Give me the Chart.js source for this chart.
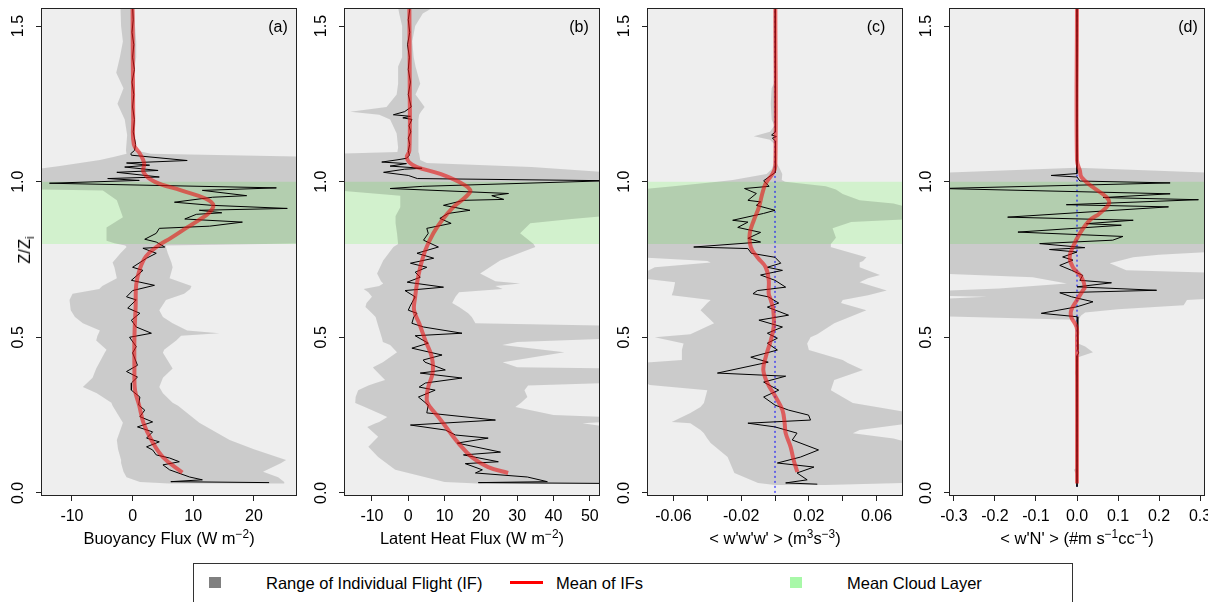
<!DOCTYPE html>
<html>
<head>
<meta charset="utf-8">
<script src="https://cdn.jsdelivr.net/npm/chart.js"></script>
<style>
  html, body { margin: 0; padding: 0; background: #fff; }
  body { width: 1219px; height: 602px; position: relative; overflow: hidden;
         font-family: 'Liberation Sans', Arial, sans-serif; color: #000; }
  canvas.panel { position: absolute; top: 0; }
  .xtitle { position: absolute; top: 530px; font-size: 16.5px; line-height: 16px; white-space: nowrap;
            transform: translateX(-50%); }
  .xtitle sup { font-size: 0.72em; line-height: 0; vertical-align: 0; position: relative; top: -0.5em; }
  .ytitle { position: absolute; left: 24px; top: 250px; font-size: 16.5px; line-height: 16px; white-space: nowrap;
            transform: translate(-50%, -50%) rotate(-90deg); }
  .ytitle sub { font-size: 0.72em; line-height: 0; vertical-align: 0; position: relative; top: 0.3em; }
  .tag { position: absolute; top: 19px; font-size: 16px; line-height: 16px; transform: translateX(-50%); }
  #legend { position: absolute; left: 193px; top: 563px; width: 878px; height: 60px; border: 1px solid #333; }
  #legend .sw { position: absolute; top: 13px; width: 12px; height: 11px; }
  #legend .ln { position: absolute; top: 17px; width: 33px; height: 3px; background: #ff0000; }
  #legend .lb { position: absolute; top: 10px; font-size: 16.5px; line-height: 18px; white-space: nowrap; }
</style>
</head>
<body>
<canvas id="panelA" class="panel" width="300" height="530" style="left:0px"></canvas>
<canvas id="panelB" class="panel" width="300" height="530" style="left:303px"></canvas>
<canvas id="panelC" class="panel" width="300" height="530" style="left:606px"></canvas>
<canvas id="panelD" class="panel" width="300" height="530" style="left:908px"></canvas>

<div class="ytitle">Z/Z<sub>i</sub></div>
<div class="xtitle" style="left:169px">Buoyancy Flux (W m<sup>−2</sup>)</div>
<div class="xtitle" style="left:472px">Latent Heat Flux (W m<sup>−2</sup>)</div>
<div class="xtitle" style="left:775px">&lt; w'w'w' &gt; (m<sup>3</sup>s<sup>−3</sup>)</div>
<div class="xtitle" style="left:1077px">&lt; w'N' &gt; (#m s<sup>−1</sup>cc<sup>−1</sup>)</div>
<div class="tag" style="left:278px">(a)</div>
<div class="tag" style="left:579px">(b)</div>
<div class="tag" style="left:876px">(c)</div>
<div class="tag" style="left:1188px">(d)</div>

<div id="legend">
  <div class="sw" style="left:15px;background:#808080"></div>
  <div class="lb" style="left:72px">Range of Individual Flight (IF)</div>
  <div class="ln" style="left:316px"></div>
  <div class="lb" style="left:362px">Mean of IFs</div>
  <div class="sw" style="left:596px;background:#a8f8a8"></div>
  <div class="lb" style="left:653px">Mean Cloud Layer</div>
</div>

<script>
// Z/Zi axis
const heightTicks = [0, 0.5, 1.0, 1.5];
const heightRange = [-0.01, 1.558];
const cloudLayer = [0.8, 1.0];

// (a) buoyancy flux  [Z/Zi, value]
const buoyTicks = [-10, 0, 10, 20];
const buoyFlight = [
  [1.56,0.0],[1.52,0.1],[1.48,-0.1],[1.44,0.2],[1.40,0.0],[1.36,0.3],[1.32,-0.1],[1.28,0.2],[1.24,0.0],[1.20,0.3],
  [1.16,0.1],[1.12,0.5],[1.10,0.3],[1.09,-0.3],[1.085,-0.2],[1.068,9.0],[1.06,-1.0],[1.053,2.8],[1.047,-1.3],[1.036,4.2],
  [1.03,-2.6],[1.015,4.4],[1.01,-4.1],[1.004,1.1],[0.995,-13.7],[0.98,23.7],[0.972,11.5],[0.955,18.8],[0.95,13.2],[0.934,6.9],
  [0.924,13.0],[0.914,25.5],[0.908,11.0],[0.90,14.7],[0.895,10.5],[0.88,8.6],[0.87,18.1],[0.857,12.7],[0.85,4.4],[0.834,3.9],
  [0.815,2.0],[0.806,3.9],[0.79,5.3],[0.786,1.7],[0.77,3.9],[0.754,2.3],[0.725,0.0],[0.715,1.7],[0.683,-0.2],[0.667,3.6],
  [0.65,0.0],[0.63,-1.0],[0.62,0.6],[0.594,-0.8],[0.577,1.2],[0.555,-0.2],[0.533,0.6],[0.513,3.1],[0.50,-0.5],[0.47,0.6],
  [0.45,0.0],[0.41,0.8],[0.39,-1.0],[0.372,0.8],[0.353,-0.2],[0.33,-0.2],[0.308,1.2],[0.282,1.0],[0.266,2.0],[0.245,1.2],
  [0.228,3.3],[0.212,0.8],[0.196,3.3],[0.176,2.3],[0.164,4.4],[0.148,2.3],[0.138,3.3],[0.122,3.9],[0.112,6.1],[0.10,7.7],
  [0.09,5.0],[0.074,6.1],[0.051,9.4],[0.042,11.5],[0.036,6.3],[0.033,22.5]
];
const buoyMean = [
  [1.56,0.0],[1.2,0.1],[1.12,0.2],[1.09,1.2],[1.06,1.9],[1.03,1.8],[1.0,3.6],[0.972,8.0],[0.946,12.0],[0.925,13.3],
  [0.9,12.6],[0.875,10.8],[0.853,9.0],[0.82,6.4],[0.79,3.9],[0.76,2.2],[0.72,1.2],[0.67,0.6],[0.6,0.5],[0.5,0.3],
  [0.4,0.3],[0.33,0.4],[0.28,1.1],[0.224,1.8],[0.17,3.1],[0.115,5.0],[0.065,8.2]
];
// [Z/Zi, min, max]
const buoyRange = [
  [1.56,-2.0,0.2],[1.5,-1.9,0.4],[1.45,-1.6,0.6],[1.4,-2.1,0.6],[1.35,-2.7,0.2],[1.3,-1.5,0.4],[1.25,-2.5,0.2],[1.2,-1.3,0.4],
  [1.15,-0.9,0.4],[1.1,-1.1,0.6],[1.09,-1.0,3.0],[1.08,-3.0,30],[1.07,-5.4,30],[1.05,-12,30],[1.04,-16,30],[0.975,-16,30],
  [0.972,-4.9,30],[0.94,-2.6,30],[0.886,-1.6,30],[0.853,-4.3,30],[0.81,-4.3,30],[0.802,-3,30],[0.795,-1.2,5.5],[0.79,-1.0,5.5],
  [0.77,-2.0,5.8],[0.74,-3.3,6.4],[0.725,-3.0,6.6],[0.69,-2.6,6.1],[0.665,-5.0,9.7],[0.655,-5.5,9.5],[0.64,-9.9,8.5],[0.62,-10.4,5.5],
  [0.587,-10.2,4.4],[0.565,-9.5,5.0],[0.545,-8.2,6.6],[0.522,-5.4,9.0],[0.513,-5.6,14.3],[0.505,-5.8,8.0],[0.49,-6.0,7.2],[0.46,-4.3,5.2],
  [0.45,-4.6,5.0],[0.40,-6.0,6.6],[0.37,-6.6,5.0],[0.34,-8.2,4.4],[0.32,-5.9,5.0],[0.29,-3.5,6.6],[0.28,-3.3,7.5],[0.225,-1.6,11.0],
  [0.17,-2.6,16.0],[0.14,-2.4,20],[0.106,-1.9,25.3],[0.096,-1.9,24.5],[0.068,-1.5,21.5],[0.05,-1.0,24],[0.035,1.2,25],[0.03,6,25]
];

// (b) latent heat flux
const latentTicks = [-10, 0, 10, 20, 30, 40, 50];
const latentFlight = [
  [1.56,0.5],[1.52,0.0],[1.48,0.4],[1.44,-0.2],[1.40,0.3],[1.36,0.0],[1.32,0.6],[1.28,0.0],[1.24,0.8],[1.225,-1.0],
  [1.215,-4.1],[1.21,0.6],[1.205,-1.5],[1.2,1.0],[1.18,0.2],[1.16,0.7],[1.14,0.0],[1.12,0.4],[1.10,0.0],[1.085,0.3],
  [1.075,-0.5],[1.07,-3.1],[1.063,-7.3],[1.058,-0.5],[1.05,-5.0],[1.043,3.8],[1.04,-1.0],[1.03,-6.8],[1.02,0.0],[1.01,2.5],
  [1.003,55],[0.985,4.0],[0.978,-5.0],[0.962,27.6],[0.955,23.0],[0.943,26.3],[0.94,15.3],[0.924,9.7],[0.908,17.0],[0.898,11.0],
  [0.882,8.7],[0.866,11.8],[0.85,5.1],[0.834,5.5],[0.812,4.2],[0.79,8.3],[0.77,2.4],[0.754,7.0],[0.738,0.6],[0.725,5.1],
  [0.709,1.9],[0.693,3.3],[0.677,-0.3],[0.661,9.7],[0.65,-0.9],[0.63,1.9],[0.60,0.5],[0.587,0.0],[0.577,2.4],[0.565,1.5],
  [0.545,1.0],[0.533,4.2],[0.513,14.8],[0.505,1.9],[0.481,5.5],[0.465,1.0],[0.443,9.3],[0.427,4.1],[0.42,4.6],[0.395,10.2],
  [0.385,3.3],[0.369,14.8],[0.353,4.7],[0.34,3.0],[0.33,7.4],[0.308,2.8],[0.282,5.5],[0.257,5.1],[0.234,24.0],[0.218,0.6],
  [0.202,10.2],[0.186,13.0],[0.176,22.0],[0.16,13.5],[0.131,25.4],[0.122,15.2],[0.10,24.8],[0.094,15.7],[0.074,20.4],[0.064,18.5],
  [0.051,32.8],[0.036,38.3],[0.033,19.3],[0.03,60]
];
const latentMean = [
  [1.56,0.3],[1.3,0.4],[1.1,0.3],[1.08,-0.4],[1.063,0.2],[1.047,2.4],[1.025,8.8],[0.997,14.3],[0.972,17.1],[0.95,15.7],
  [0.918,12.4],[0.876,9.3],[0.834,6.9],[0.78,4.7],[0.725,3.3],[0.673,2.4],[0.63,1.9],[0.587,1.6],[0.545,3.0],[0.49,4.7],
  [0.436,6.5],[0.385,6.7],[0.34,5.5],[0.297,5.1],[0.276,6.0],[0.244,8.3],[0.202,11.0],[0.16,13.8],[0.115,17.5],[0.083,22.0],[0.064,27.5]
];
const latentRange = [
  [1.56,-2.8,6.9],[1.54,-2.5,4.0],[1.5,-1.7,1.9],[1.45,-1.7,1.1],[1.4,-1.7,1.5],[1.37,-2.8,2.0],[1.315,-2.8,3.3],[1.28,-3.2,2.0],
  [1.24,-6.0,4.5],[1.225,-16,3.5],[1.215,-8,3.0],[1.2,-5.0,2.8],[1.155,-3.2,2.8],[1.11,-2.8,2.8],[1.095,-3.0,2.8],[1.09,-18,3.0],
  [1.07,-18,3.3],[1.06,-18,5.1],[1.047,-18,34],[1.03,-18,55],[0.97,-18,55],[0.955,-2.2,55],[0.918,-2.2,55],[0.89,-3.5,55],
  [0.88,-3.6,45],[0.866,-3.4,33.6],[0.834,-3.1,30.8],[0.80,-2.8,34.5],[0.79,-4.1,35],[0.747,-6.9,25.3],[0.705,-8.6,19.8],[0.68,-7.5,24],
  [0.673,-6.9,30.8],[0.665,-8,24],[0.655,-12.3,26],[0.645,-11,14],[0.63,-10.0,13],[0.61,-11.5,12.1],[0.597,-11.8,14],[0.577,-10,16.5],
  [0.565,-9.0,17.5],[0.545,-8.5,18.5],[0.537,-8.3,55],[0.495,-7.2,55],[0.485,-7.0,30],[0.475,-5,25.9],[0.452,-3.1,43],[0.42,-7,26],
  [0.404,-9.7,30],[0.40,-9.5,55],[0.363,-6.4,55],[0.353,-9.0,55],[0.345,-11,33],[0.33,-13.8,32],[0.308,-14.5,32.8],[0.289,-14.6,31],
  [0.276,-12,29.5],[0.25,-7,40],[0.244,-5.8,55],[0.228,-8,55],[0.224,-9,48],[0.212,-11.3,55],[0.18,-8.3,55],[0.148,-11,55],
  [0.115,-8.3,55],[0.074,-3.6,55],[0.035,10,55],[0.03,19,55]
];

// (c) <w'w'w'>
const wwwTicks = [-0.06, -0.04, -0.02, 0, 0.02, 0.04, 0.06];
const wwwLabels = ['-0.06', '', '-0.02', '', '0.02', '', '0.06'];
const wwwFlight = [
  [1.56,0],[1.4,0],[1.2,0.0003],[1.16,0.0005],[1.15,-0.002],[1.145,0.0008],[1.14,-0.0015],[1.13,0.0003],[1.1,0],[1.03,0.0005],
  [1.003,-0.0067],[0.985,-0.0035],[0.978,-0.018],[0.962,-0.011],[0.94,-0.016],[0.935,-0.0085],[0.924,-0.011],[0.908,0.0],[0.898,-0.0067],[0.876,-0.025],
  [0.87,-0.016],[0.853,-0.022],[0.837,-0.0085],[0.818,-0.016],[0.806,-0.0085],[0.79,-0.048],[0.785,-0.016],[0.77,-0.014],[0.757,0.0],[0.738,0.0034],
  [0.725,-0.0045],[0.715,0.0044],[0.70,-0.0085],[0.683,0.0],[0.661,0.0063],[0.65,-0.0104],[0.64,-0.013],[0.63,-0.004],[0.61,0.0022],[0.597,-0.0045],
  [0.571,0.008],[0.555,-0.0095],[0.533,0.0044],[0.513,-0.0045],[0.497,0.0014],[0.481,-0.0045],[0.459,0.0014],[0.436,-0.0143],[0.42,-0.004],[0.385,-0.034],
  [0.375,0.0063],[0.356,-0.0067],[0.33,0.0022],[0.308,-0.0067],[0.282,0.0],[0.266,0.008],[0.25,0.0198],[0.234,0.021],[0.224,-0.016],[0.212,0.0],
  [0.192,0.013],[0.17,0.0102],[0.138,0.0257],[0.115,0.015],[0.096,0.0014],[0.083,0.023],[0.064,0.013],[0.042,0.019],[0.032,0.0063],[0.028,0.025]
];
const wwwMean = [
  [1.56,0.0002],[1.05,0.0002],[1.025,-0.0015],[0.994,-0.0055],[0.962,-0.0075],[0.918,-0.0095],[0.876,-0.0125],[0.834,-0.0149],[0.79,-0.0143],
  [0.757,-0.0104],[0.725,-0.0055],[0.683,-0.0037],[0.64,-0.0037],[0.62,-0.0025],[0.587,-0.001],[0.533,-0.0008],[0.49,-0.0025],[0.436,-0.0055],
  [0.395,-0.0069],[0.353,-0.0045],[0.308,0.0004],[0.266,0.0044],[0.224,0.0057],[0.192,0.0063],[0.148,0.0092],[0.106,0.011],[0.067,0.0132]
];
const wwwRange = [
  [1.56,-0.0002,0.0002],[1.32,-0.0002,0.0002],[1.30,-0.002,0.0003],[1.25,-0.0025,0.0003],[1.2,-0.002,0.0003],[1.18,-0.0004,0.0004],
  [1.16,-0.003,0.0005],[1.146,-0.0125,0.0005],[1.135,-0.003,0.0005],[1.12,-0.0003,0.0005],[1.06,-0.0005,0.001],[1.04,-0.002,0.003],
  [1.025,-0.005,0.0043],[1.005,-0.025,0.004],[1.0,-0.034,0.006],[0.985,-0.06,0.03],[0.975,-0.08,0.036],[0.96,-0.08,0.04],
  [0.94,-0.08,0.05],[0.93,-0.08,0.07],[0.915,-0.08,0.08],[0.88,-0.08,0.08],[0.87,-0.08,0.045],[0.85,-0.08,0.034],
  [0.82,-0.08,0.036],[0.80,-0.08,0.033],[0.79,-0.08,0.0328],[0.757,-0.08,0.054],[0.745,-0.04,0.052],[0.74,-0.038,0.05],
  [0.725,-0.071,0.05],[0.70,-0.08,0.062],[0.69,-0.08,0.055],[0.677,-0.059,0.05],[0.65,-0.06,0.066],[0.635,-0.061,0.055],
  [0.62,-0.038,0.04],[0.61,-0.04,0.039],[0.587,-0.044,0.054],[0.545,-0.036,0.035],[0.51,-0.05,0.025],[0.50,-0.071,0.021],
  [0.48,-0.054,0.019],[0.459,-0.055,0.02],[0.427,-0.055,0.04],[0.417,-0.08,0.043],[0.395,-0.08,0.052],[0.363,-0.08,0.035],
  [0.347,-0.074,0.034],[0.33,-0.04,0.033],[0.289,-0.042,0.046],[0.276,-0.044,0.06],[0.257,-0.05,0.08],[0.228,-0.061,0.08],
  [0.224,-0.05,0.08],[0.202,-0.044,0.05],[0.192,-0.042,0.046],[0.175,-0.04,0.07],[0.16,-0.038,0.08],[0.115,-0.028,0.08],
  [0.064,-0.024,0.08],[0.032,-0.01,0.08],[0.025,0.0,0.03]
];

// (d) <w'N'>
const wnTicks = [-0.3, -0.2, -0.1, 0, 0.1, 0.2, 0.3];
const wnLabels = ['-0.3', '-0.2', '-0.1', '0.0', '0.1', '0.2', '0.3'];
const wnFlight = [
  [1.56,0],[1.05,0],[1.026,0],[1.02,-0.063],[1.015,0],[1.002,0.007],[0.996,0.227],[0.978,-0.33],[0.961,0.227],[0.949,0.064],
  [0.942,0.296],[0.926,-0.026],[0.919,0.223],[0.886,-0.169],[0.876,0.137],[0.865,0.023],[0.86,0.108],[0.838,-0.144],[0.824,0.112],[0.812,0.087],
  [0.801,-0.091],[0.788,0.019],[0.782,-0.067],[0.774,0],[0.758,-0.035],[0.748,-0.01],[0.731,-0.042],[0.715,-0.013],[0.699,0.014],[0.683,0.007],
  [0.675,0.084],[0.662,0],[0.651,0.194],[0.643,-0.042],[0.63,-0.013],[0.614,0.039],[0.598,0],[0.577,-0.087],[0.566,0],[0.46,0.002],
  [0.45,0.004],[0.44,0],[0.02,0]
];
const wnMean = [
  [1.56,0],[1.068,0],[1.036,0.007],[1.014,0.011],[0.982,0.039],[0.95,0.072],[0.93,0.078],[0.898,0.055],[0.876,0.031],[0.834,0.007],
  [0.79,-0.01],[0.757,-0.018],[0.725,-0.01],[0.693,0.011],[0.661,0.019],[0.65,0.014],[0.62,0.0],[0.587,-0.014],[0.565,-0.014],[0.533,-0.001],
  [0.5,0.0],[0.03,0.0]
];
const wnRange = [
  [1.56,-0.001,0.001],[1.05,-0.001,0.001],[1.045,-0.002,0.002],[1.025,-0.4,0.4],[0.78,-0.4,0.4],[0.765,-0.4,0.2],[0.757,-0.4,0.137],
  [0.738,-0.4,0.08],[0.715,-0.4,0.12],[0.705,-0.35,0.4],[0.693,-0.108,0.4],[0.673,-0.025,0.4],[0.657,-0.19,0.4],[0.645,-0.4,0.4],
  [0.635,-0.4,0.4],[0.63,-0.22,0.4],[0.62,-0.4,0.268],[0.603,-0.4,0.26],[0.59,-0.4,0.1],[0.58,-0.4,0.02],[0.57,-0.4,0.01],
  [0.556,-0.005,0.003],[0.48,-0.002,0.003],[0.47,-0.002,0.02],[0.452,-0.002,0.039],[0.436,-0.002,0.003],[0.40,-0.002,0.002],
  [0.385,-0.004,0.002],[0.37,-0.001,0.002],[0.08,-0.001,0.002],[0.074,-0.008,0.002],[0.06,-0.002,0.002],[0.03,-0.001,0.001]
];

const axisColor = '#222';
const tickFont = {family: "'Liberation Sans', Arial, sans-serif", size: 16};

const toPoints = rows => rows.map(r => ({x: r[1], y: r[0]}));
const rangePolygon = rows => rows.map(r => ({x: r[1], y: r[0]}))
  .concat(rows.slice().reverse().map(r => ({x: r[2], y: r[0]})));

// plot background and box
const panelFrame = {
  id: 'panelFrame',
  beforeDraw(chart) {
    const {ctx, chartArea: a} = chart;
    ctx.save();
    ctx.fillStyle = '#eeeeee';
    ctx.fillRect(a.left, a.top, a.right - a.left, a.bottom - a.top);
    ctx.restore();
  },
  afterDraw(chart) {
    const {ctx, chartArea: a} = chart;
    ctx.save();
    ctx.strokeStyle = axisColor;
    ctx.lineWidth = 1;
    ctx.strokeRect(a.left + 0.5, a.top + 0.5, a.right - a.left - 1, a.bottom - a.top - 1);
    ctx.restore();
  }
};

function makePanel(id, p) {
  const datasets = [
    {data: toPoints(p.mean), borderColor: 'rgba(232,20,20,0.6)', borderWidth: 4, tension: 0.4, fill: false},
    {data: toPoints(p.flight), borderColor: '#000', borderWidth: 1, tension: 0, fill: false}
  ];
  if (p.zeroLine) {
    datasets.push({data: [{x: 0, y: p.zeroLine[0]}, {x: 0, y: p.zeroLine[1]}],
      borderColor: '#0000ff', borderWidth: 1, borderDash: [2, 3], fill: false});
  }
  datasets.push({data: rangePolygon(p.range), borderWidth: 0, backgroundColor: 'rgba(0,0,0,0.145)', fill: 'shape'});
  datasets.push({data: [{x: p.xRange[0] - 1, y: cloudLayer[1]}, {x: p.xRange[1] + 1, y: cloudLayer[1]},
      {x: p.xRange[1] + 1, y: cloudLayer[0]}, {x: p.xRange[0] - 1, y: cloudLayer[0]}],
    borderWidth: 0, backgroundColor: '#d2f1cd', fill: 'shape'});

  return new Chart(document.getElementById(id), {
    type: 'line',
    data: {datasets},
    options: {
      responsive: false,
      animation: false,
      devicePixelRatio: 1,
      layout: {padding: {top: 8, right: 3, left: 0, bottom: 0}},
      elements: {point: {radius: 0, hoverRadius: 0}},
      plugins: {legend: {display: false}, tooltip: {enabled: false}},
      events: [],
      scales: {
        x: {
          type: 'linear', min: p.xRange[0], max: p.xRange[1],
          afterBuildTicks: s => { s.ticks = p.ticks.map(v => ({value: v})); },
          afterFit: s => { s.height = 34; s.paddingLeft = 0; s.paddingRight = 0; },
          grid: {drawOnChartArea: false, tickLength: 5, color: axisColor},
          border: {display: false},
          ticks: {autoSkip: false, maxRotation: 0, padding: 6, color: '#000', font: tickFont,
            callback: (v, i) => p.labels[i]}
        },
        y: {
          type: 'linear', min: heightRange[0], max: heightRange[1],
          afterBuildTicks: s => { s.ticks = heightTicks.map(v => ({value: v})); },
          afterFit: s => { s.width = 41; s.paddingTop = 0; s.paddingBottom = 0; },
          grid: {drawOnChartArea: false, tickLength: 5, color: axisColor},
          border: {display: false},
          ticks: {autoSkip: false, minRotation: 90, maxRotation: 90, crossAlign: 'center', padding: 6,
            color: '#000', font: tickFont, callback: v => v.toFixed(1)}
        }
      }
    },
    plugins: [panelFrame]
  });
}

makePanel('panelA', {xRange: [-15.1, 27.1], ticks: buoyTicks, labels: buoyTicks.map(String),
  flight: buoyFlight, mean: buoyMean, range: buoyRange});
makePanel('panelB', {xRange: [-17.7, 52.8], ticks: latentTicks, labels: latentTicks.map(String),
  flight: latentFlight, mean: latentMean, range: latentRange});
makePanel('panelC', {xRange: [-0.0756, 0.0756], ticks: wwwTicks, labels: wwwLabels,
  flight: wwwFlight, mean: wwwMean, range: wwwRange, zeroLine: [0, 1.56]});
makePanel('panelD', {xRange: [-0.312, 0.312], ticks: wnTicks, labels: wnLabels,
  flight: wnFlight, mean: wnMean, range: wnRange, zeroLine: [0.02, 1.56]});
</script>
</body>
</html>
